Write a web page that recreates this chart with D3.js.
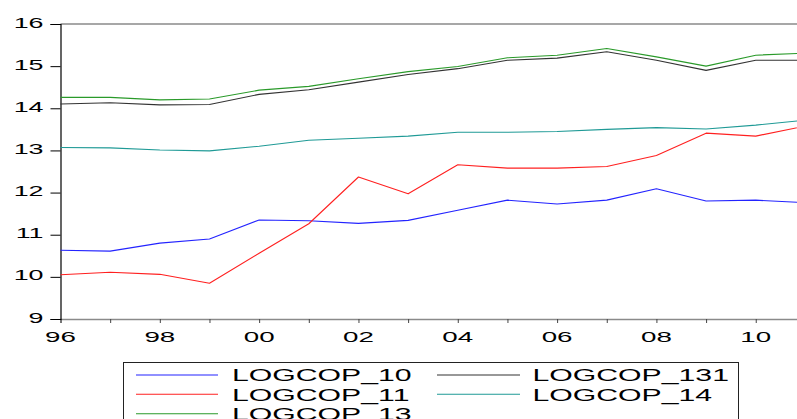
<!DOCTYPE html>
<html>
<head>
<meta charset="utf-8">
<script src="https://cdn.jsdelivr.net/npm/d3@7"></script>
<style>
  html, body { margin: 0; padding: 0; background: #fff; }
  svg { display: block; }
  text { font-family: "Liberation Sans", Arial, sans-serif; fill: #000; }
</style>
</head>
<body>
<svg id="chart" width="797" height="419"></svg>
<script>
// Annual series, 1996-2011
const years = [1996, 1997, 1998, 1999, 2000, 2001, 2002, 2003, 2004, 2005, 2006, 2007, 2008, 2009, 2010, 2011];
const logcop10  = [10.63, 10.61, 10.80, 10.90, 11.35, 11.33, 11.27, 11.34, 11.58, 11.82, 11.73, 11.82, 12.09, 11.80, 11.82, 11.76];
const logcop11  = [10.05, 10.11, 10.06, 9.85, 10.56, 11.26, 12.37, 11.97, 12.66, 12.58, 12.58, 12.62, 12.88, 13.41, 13.34, 13.58];
const logcop13  = [14.26, 14.26, 14.20, 14.22, 14.43, 14.52, 14.70, 14.87, 14.99, 15.20, 15.26, 15.42, 15.22, 15.00, 15.26, 15.31];
const logcop131 = [14.10, 14.13, 14.08, 14.09, 14.33, 14.44, 14.62, 14.80, 14.94, 15.14, 15.19, 15.34, 15.14, 14.90, 15.14, 15.14];
const logcop14  = [13.07, 13.06, 13.01, 12.99, 13.10, 13.24, 13.29, 13.34, 13.43, 13.43, 13.45, 13.50, 13.54, 13.51, 13.60, 13.72];

const seriesNames = ["LOGCOP_10", "LOGCOP_11", "LOGCOP_13", "LOGCOP_131", "LOGCOP_14"];
const seriesColors = ["#2323ff", "#ff2020", "#2a9a2a", "#333333", "#1f9a96"];
const yTicks = [9, 10, 11, 12, 13, 14, 15, 16];
const xLabelYears = [1996, 1998, 2000, 2002, 2004, 2006, 2008, 2010];

const seriesValues = [logcop10, logcop11, logcop13, logcop131, logcop14];
const series = seriesNames.map((name, i) => ({
  name, color: seriesColors[i],
  points: years.map((yr, j) => ({ year: yr, value: seriesValues[i][j] }))
}));

const svg = d3.select("#chart");
const plotLeft = 60.5, plotTop = 24, plotBottom = 319;
const step = 49.66;
const x = d3.scaleLinear().domain([1996, 2011]).range([plotLeft, plotLeft + 15 * step]);
const y = d3.scaleLinear().domain([9, 16]).range([plotBottom, plotTop]);
const SX = 1.85; // wide lettering of the axis labels

// frame: grey top border
svg.append("line")
  .attr("x1", plotLeft).attr("x2", x(2011)).attr("y1", plotTop).attr("y2", plotTop)
  .attr("stroke", "#8a8a8a").attr("stroke-width", 1.5);

// bottom axis
const xAxis = d3.axisBottom(x).tickValues(years).tickSize(4).tickFormat(d => "");
const gx = svg.append("g").attr("transform", `translate(0,${plotBottom})`).call(xAxis);
gx.select(".domain").attr("stroke", "#8a8a8a").attr("stroke-width", 1.5);
gx.selectAll(".tick line").attr("stroke", "#444");

svg.append("g").selectAll("g").data(xLabelYears).join("g")
  .attr("transform", d => `translate(${x(d)},342) scale(${SX},1)`)
  .append("text")
  .attr("text-anchor", "middle")
  .attr("font-size", 15)
  .text(d => String(d % 100).padStart(2, "0"));

// left axis
const yAxis = d3.axisLeft(y).tickValues(yTicks).tickSize(10).tickFormat(d => "");
const gy = svg.append("g").attr("transform", `translate(${plotLeft},0)`).call(yAxis);
gy.select(".domain").attr("stroke", "#000").attr("stroke-width", 1.2);
gy.selectAll(".tick line").attr("stroke", "#000");

svg.append("g").selectAll("g").data(yTicks).join("g")
  .attr("transform", d => `translate(43.5,${y(d) + 3.5}) scale(${SX},1)`)
  .append("text")
  .attr("text-anchor", "end")
  .attr("font-size", 14.5)
  .text(d => d);

// series lines
const line = d3.line().x(d => x(d.year)).y(d => y(d.value));
svg.append("g").selectAll("path").data(series).join("path")
  .attr("d", d => line(d.points))
  .attr("fill", "none")
  .attr("stroke", d => d.color)
  .attr("stroke-width", 1.1)
  .attr("stroke-linejoin", "round");

// legend
const legend = svg.append("g");
legend.append("rect")
  .attr("x", 123.5).attr("y", 362.5).attr("width", 615).attr("height", 80)
  .attr("fill", "#fff").attr("stroke", "#222").attr("stroke-width", 1);

const legendCols = [
  { lineX1: 136, lineX2: 218, textX: 232 },
  { lineX1: 437, lineX2: 520, textX: 532.5 }
];
const rowLineY = [375, 394.3, 413.7];
const legendItems = series.map((s, i) => ({
  s, col: legendCols[i < 3 ? 0 : 1], row: i < 3 ? i : i - 3
}));
const li = legend.selectAll("g.item").data(legendItems).join("g").attr("class", "item");
li.append("line")
  .attr("x1", d => d.col.lineX1).attr("x2", d => d.col.lineX2)
  .attr("y1", d => rowLineY[d.row]).attr("y2", d => rowLineY[d.row])
  .attr("stroke", d => d.s.color).attr("stroke-width", 1.1);
li.append("g")
  .attr("transform", d => `translate(${d.col.textX},${rowLineY[d.row] + 6.2}) scale(1.81,1)`)
  .append("text")
  .attr("font-size", 16.7)
  .text(d => d.s.name);
</script>
</body>
</html>
